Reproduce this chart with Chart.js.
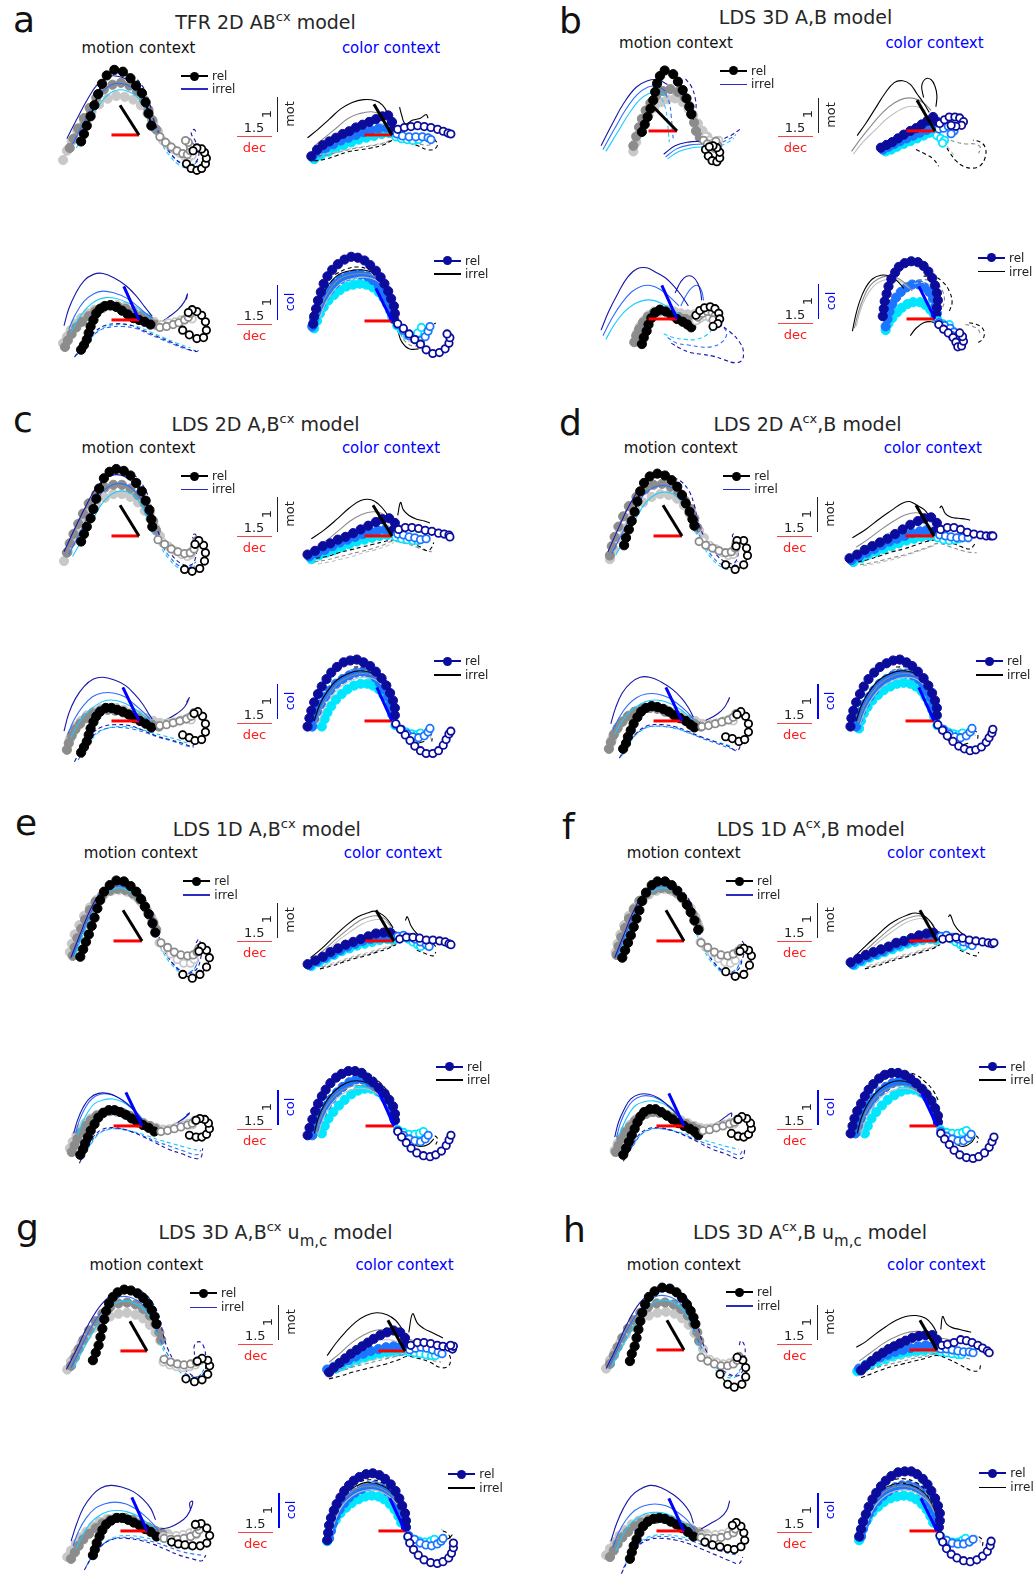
<!DOCTYPE html>
<html><head><meta charset="utf-8">
<script src="https://cdn.jsdelivr.net/npm/chart.js@4.4.0/dist/chart.umd.min.js"></script>
<style>
html,body{margin:0;padding:0;background:#fff;}
#fig{position:relative;width:1033px;height:1574px;overflow:hidden;font-family:"DejaVu Sans",sans-serif;color:#222;}
.t{position:absolute;white-space:nowrap;line-height:1;}
canvas{position:absolute;}
.ln{position:absolute;}
</style></head><body><div id="fig"></div>
<script>
// ===== DATA (state-space projections; x = dec axis, y = mot / col axis; rel offsets from trajectory origin) =====
const panels = ['a','b','c','d','e','f','g','h'];
const titles = ['TFR 2D AB<sup>cx</sup> model','LDS 3D A,B model','LDS 2D A,B<sup>cx</sup> model','LDS 2D A<sup>cx</sup>,B model',
  'LDS 1D A,B<sup>cx</sup> model','LDS 1D A<sup>cx</sup>,B model','LDS 3D A,B<sup>cx</sup> u<sub>m,c</sub> model','LDS 3D A<sup>cx</sup>,B u<sub>m,c</sub> model'];
const contexts = ['motion context','color context'];
const axisLabels = ['mot','col'];
const legendLabels = ['rel','irrel'];
const scaleLabels = ['1.5','1','dec'];

// motion context, dec-mot plane (top-left)
const relFilledTL = [
 [[-61,-7,-58,1,-55,10,-51,20,-47,32,-43,44,-39,55,-34,64,-26,70,-17,68,-9,61,-3,53,3,45,7,35,10,23,13,10],[-73,-14,-69,-4,-64,7,-58,18,-52,29,-45,40,-37,49,-28,54,-19,56,-10,53,-2,47,5,38,10,27,14,16,18,6],[-80,-27,-76,-17,-71,-7,-65,4,-58,15,-50,25,-42,33,-33,39,-24,42,-15,41,-6,38,2,32,9,23,15,13,20,4]],
 [[-37,-1,-34,7,-31,15,-28,24,-25,33,-23,42,-21,51,-18,59,-13,65,-4,61,1,53,6,44,10,35,13,26,15,18],[-46,-16,-43,-6,-40,4,-37,13,-33,22,-28,30,-22,38,-15,43,-7,45,1,42,8,36,13,27,16,18,18,9,20,0,24,-7],[-46,-22,-43,-12,-39,-2,-35,8,-30,17,-24,25,-17,31,-10,34,-2,35,6,31,12,24,17,16,22,8,27,0,32,-6]],
 [[-61,-6,-58,2,-55,10,-51,19,-48,29,-45,40,-42,51,-37,62,-31,69,-24,72,-16,70,-9,65,-3,57,3,48,7,38,11,28,13,18,14,10],[-76,-18,-73,-8,-69,2,-64,13,-59,24,-53,35,-45,45,-36,52,-27,55,-18,55,-9,51,-1,44,6,35,11,25,15,16,18,6],[-79,-27,-75,-17,-71,-7,-66,4,-60,15,-53,26,-45,35,-36,41,-27,45,-18,45,-9,42,-1,36,6,27,12,18,17,9,22,0]],
 [[-61,-10,-59,-2,-56,7,-53,16,-50,26,-47,37,-44,48,-40,57,-34,64,-26,67,-18,65,-11,60,-5,53,0,44,4,35,8,26,11,18,13,11],[-76,-21,-74,-11,-71,-1,-67,10,-62,21,-56,32,-48,42,-39,50,-30,55,-21,56,-12,53,-4,47,3,38,9,29,13,19,16,9],[-76,-25,-72,-14,-67,-3,-62,8,-56,19,-49,28,-41,36,-32,42,-23,45,-14,44,-5,40,2,33,8,24,13,15,18,6,23,-2]],
 [[-65,-17,-62,-9,-59,-1,-56,7,-53,16,-50,25,-47,35,-44,44,-40,53,-34,60,-27,65,-19,64,-12,59,-6,53,-1,45,3,37,7,29,11,19,14,9],[-73,-16,-71,-7,-68,3,-64,13,-60,23,-55,33,-49,42,-42,49,-34,54,-26,56,-18,55,-10,51,-3,45,3,37,8,28,12,20,15,12],[-76,-12,-74,-3,-71,7,-66,17,-61,27,-55,36,-48,44,-40,50,-32,54,-24,55,-16,53,-8,49,-1,42,5,34,10,25,13,16]],
 [[-65,-18,-62,-10,-59,-2,-56,6,-53,15,-50,24,-47,33,-44,43,-40,52,-34,60,-28,64,-20,64,-13,60,-7,54,-2,47,3,39,7,31,11,22,15,12],[-71,-15,-69,-6,-66,4,-62,14,-58,24,-53,34,-47,43,-40,50,-32,55,-24,57,-16,56,-8,52,-2,46,4,38,9,29,13,21,16,13],[-72,-12,-70,-3,-67,7,-63,17,-58,27,-52,36,-45,44,-37,50,-29,54,-21,56,-13,54,-6,50,1,43,7,35,12,26,15,17]],
 [[-57,-10,-54,-2,-51,6,-49,15,-47,24,-45,34,-43,43,-40,51,-36,58,-31,63,-24,66,-17,65,-10,62,-4,57,1,51,5,44,8,37,10,29],[-80,-16,-76,-7,-72,2,-67,12,-61,22,-54,32,-47,40,-39,47,-30,51,-21,52,-12,50,-4,45,3,38,9,29,13,20,15,12],[-84,-20,-80,-11,-75,-2,-69,8,-63,17,-56,25,-48,32,-39,37,-30,40,-21,41,-12,39,-4,35,3,28,9,20,14,11]],
 [[-57,-12,-55,-4,-52,4,-50,13,-48,22,-46,31,-44,40,-41,49,-37,57,-31,63,-23,67,-15,66,-8,62,-2,56,3,49,7,42,10,35,12,28],[-78,-15,-74,-6,-70,3,-65,13,-59,23,-53,32,-46,40,-38,46,-29,50,-20,51,-11,49,-3,44,4,37,10,28,14,19,16,10],[-82,-20,-78,-11,-73,-2,-67,8,-61,17,-54,25,-46,32,-37,37,-28,40,-19,41,-10,39,-2,34,5,27,11,18,16,9,20,1]]
];
const relOpenTL = [
 [[50,-31,55,-36,61,-38,66,-36,70,-31,71,-25,69,-19,66,-15,61,-14,57,-17],[22,-2,28,-8,34,-13,40,-17,46,-20,51,-21,54,-17,54,-12,52,-8,49,-6],[25,-6,31,-11,37,-16,43,-20,48,-23,52,-25,56,-22,57,-17,55,-13]],
 [[30,-20,33,-27,37,-32,42,-33,45,-29,45,-23,42,-18,38,-16,34,-17],[28,-10,32,-14,36,-17,40,-19,43,-16,41,-11],[30,-6,34,-10,38,-13,42,-14,44,-10]],
 [[48,-36,56,-38,64,-35,69,-27,70,-18,68,-10,63,-5,59,-9],[20,-4,27,-9,34,-14,41,-17,48,-19,54,-18,58,-14,60,-9,61,-5],[24,-6,31,-11,38,-16,45,-20,51,-22,55,-20,57,-15]],
 [[46,-31,56,-36,65,-31,69,-21,68,-13,65,-5,58,-5,57,-11],[18,-6,25,-10,32,-13,39,-16,46,-18,52,-17,56,-13,57,-8],[22,-5,29,-10,36,-14,43,-18,49,-21,54,-20,56,-15]],
 [[43,-36,53,-40,61,-36,68,-28,71,-18,68,-10,63,-6,60,-11],[20,-2,27,-7,34,-12,41,-15,48,-16,54,-15,58,-12,60,-8],[18,-2,24,-8,30,-14,37,-20,44,-24,51,-24,55,-20]],
 [[44,-33,54,-38,63,-36,69,-26,71,-16,68,-10,63,-8,59,-11],[18,-2,25,-7,32,-12,39,-15,46,-16,52,-14,57,-11,60,-8],[17,-1,23,-7,29,-13,36,-19,43,-23,49,-24,54,-21]],
 [[41,-30,50,-33,58,-31,64,-25,66,-16,64,-10,58,-8,53,-11],[18,-9,25,-12,32,-14,39,-15,46,-14,52,-12,56,-10],[17,-12,24,-15,31,-17,38,-18,45,-17,51,-15]],
 [[38,-26,46,-37,53,-40,61,-37,65,-29,65,-19,62,-11,56,-8],[18,-8,25,-12,32,-15,39,-17,46,-17,52,-15,56,-11,58,-7],[20,-6,27,-10,34,-13,41,-15,48,-14,54,-11]]
];
const irrelSolidTL = [
 [[-76,-4,-66,16,-55,37,-44,54,-32,63,-18,62,-4,53,6,38,12,20],[-70,-10,-60,10,-49,31,-38,47,-26,55,-13,54,-1,45,8,30,13,12],[-66,-14,-56,6,-46,26,-35,41,-24,48,-12,47,0,39,8,24,13,8]],
 [[-80,-16,-68,8,-56,30,-43,47,-31,54,-20,55,-10,50,null,-14,-25,-2,-16,12,-12,26,-11],[-78,-20,-66,2,-54,23,-42,39,-31,47,-21,48,-12,43,null,-12,-28,0,-19,14,-15,28,-14],[-75,-22,-63,-2,-51,18,-40,33,-30,40,-20,42,-11,38,null,-10,-30,2,-22,16,-18,30,-17]],
 [[-79,-17,-69,5,-57,30,-45,52,-32,64,-18,65,-5,56,5,40,11,22],[-74,-20,-64,0,-53,23,-42,43,-30,54,-17,56,-5,49,5,34,11,16],[-70,-22,-60,-4,-49,17,-38,36,-27,46,-15,48,-4,42,5,28,11,12]],
 [[-78,-17,-68,6,-57,30,-45,50,-32,62,-18,63,-5,55,5,40,11,22],[-74,-19,-64,1,-53,23,-42,42,-30,52,-17,54,-5,48,5,33,11,16],[-70,-21,-60,-3,-49,18,-38,36,-27,45,-15,47,-4,41,5,27,11,12]],
 [[-75,-18,-66,5,-56,30,-45,50,-33,60,-20,60,-7,52,4,38,11,20],[-73,-17,-64,6,-54,30,-43,49,-31,58,-19,58,-7,50,4,36,11,18],[-71,-16,-62,7,-52,30,-41,48,-30,56,-18,56,-7,48,4,34,11,16]],
 [[-73,-18,-64,5,-54,30,-43,50,-31,60,-18,60,-5,52,5,38,12,20],[-71,-17,-62,6,-52,30,-41,49,-29,58,-17,58,-5,50,5,36,12,18],[-69,-16,-60,7,-50,30,-39,48,-28,56,-16,56,-5,48,5,34,12,16]],
 [[-85,-20,-74,2,-62,28,-48,50,-34,62,-20,63,-6,56,5,42,12,24],[-80,-18,-70,3,-58,27,-45,46,-32,57,-19,58,-6,51,5,37,11,20],[-77,-18,-67,2,-55,24,-43,42,-31,52,-18,53,-6,47,5,34,11,18]],
 [[-82,-20,-71,3,-60,28,-47,50,-33,62,-19,63,-6,56,5,42,12,24],[-79,-18,-69,3,-57,27,-44,46,-31,57,-18,58,-5,51,5,37,11,20],[-76,-18,-66,2,-54,24,-42,42,-30,52,-17,53,-5,47,5,34,11,18]]
];
const irrelDashTL = [
 [[-22,67,-8,64,4,52,11,35,15,18,22,0,32,-18,44,-30,56,-32,63,-22,60,-8,55,2,58,6,61,1],[16,10,24,-6,33,-20,43,-30,54,-34,62,-28],[15,8,23,-8,32,-22,42,-32,53,-36,60,-30]],
 [[9,56,15,48,19,36,20,24,17,12,null,50,-8,58,-4,64,0,68,3],[-12,40,-8,30,-6,15,-5,2,-4,-8,null,48,-12,56,-8,62,-4],[-16,35,-12,24,-10,10,-9,-2,-8,-12,null,46,-16,54,-12,60,-8]],
 [[-20,70,-6,66,5,53,12,35,16,16,24,-4,34,-20,45,-30,55,-31,60,-22,60,-8,56,0,59,2,62,-3],[15,8,23,-8,32,-22,42,-32,52,-34,60,-28],[14,6,22,-10,31,-24,41,-34,51,-37,59,-32]],
 [[-16,64,-3,60,7,49,13,33,17,15,25,-4,35,-19,46,-28,55,-29,59,-20,58,-8,53,0,55,3],[15,8,23,-8,32,-22,42,-31,52,-33,59,-27],[14,6,22,-10,31,-24,41,-33,51,-36,58,-31]],
 [[-28,64,-14,62,-2,52,8,36,14,16,22,-6,32,-24,44,-34,56,-32,62,-18,62,-6,60,2,57,-2],[14,10,22,-8,31,-22,42,-32,53,-32,60,-20],[13,8,21,-10,30,-24,41,-34,52,-34,59,-22]],
 [[-26,64,-12,62,0,52,9,36,14,16,22,-6,32,-24,44,-34,56,-32,62,-18,64,-6,60,2],[14,10,22,-8,31,-22,42,-32,53,-32,61,-20],[13,8,21,-10,30,-24,41,-34,52,-34,60,-22]],
 [[-20,66,-6,64,5,53,13,36,17,18,22,2,30,-12,42,-22,52,-28,60,-24,62,-10,60,4,55,10,50,6,50,-4],[14,12,22,-4,31,-16,42,-25,53,-28,60,-20],[13,10,21,-6,30,-18,41,-27,52,-30,59,-23]],
 [[-18,64,-4,62,6,51,13,34,17,16,24,-2,34,-16,46,-25,56,-28,62,-22,64,-8,64,4,60,10,58,4],[14,12,22,-4,31,-16,42,-25,53,-28,60,-20],[13,10,21,-6,30,-18,41,-27,52,-30,59,-23]]
];
const axisTL = [[-20,32],[-25,26],[-20,33],[-20,33],[-20,33],[-19,33],[-18,32],[-18,32]];

// color context, dec-mot plane (top-right)
const relFilledTR = [
 [[-85,-23,-79,-16,-73,-11,-66,-7,-59,-3,-52,1,-45,4,-38,8,-31,11,-24,14,-17,17,-10,20,-4,21,0,14,1,5],[-84,-23,-77,-18,-70,-14,-62,-10,-54,-6,-46,-3,-38,0,-30,3,-22,5,-14,7,-6,8,0,6],[-82,-26,-75,-22,-67,-18,-59,-14,-51,-11,-43,-8,-35,-5,-27,-3,-19,-1,-11,1,-3,2]],
 [[-57,-18,-51,-15,-45,-12,-39,-8,-33,-4,-26,0,-20,3,-14,7,-8,11,-2,15,2,10],[-55,-20,-49,-17,-43,-14,-37,-11,-30,-8,-23,-5,-16,-2,-9,1,-3,4,2,3],[-52,-22,-46,-20,-40,-17,-33,-14,-26,-11,-19,-8,-12,-5,-6,-2,0,-2]],
 [[-89,-20,-81,-16,-73,-11,-65,-8,-57,-4,-49,-1,-41,3,-33,7,-25,11,-17,15,-10,18,-3,19,3,14,1,6],[-87,-22,-79,-19,-71,-15,-63,-11,-55,-7,-47,-4,-39,-1,-31,2,-23,4,-15,6,-7,7,-1,5],[-85,-25,-77,-21,-69,-18,-61,-15,-53,-12,-45,-9,-37,-6,-29,-4,-21,-2,-13,0,-5,1]],
 [[-89,-24,-81,-20,-73,-15,-65,-11,-57,-7,-49,-3,-41,2,-33,7,-25,12,-17,16,-10,19,-3,20,3,14,1,5],[-87,-26,-79,-22,-71,-18,-63,-14,-55,-10,-47,-6,-39,-3,-31,0,-23,3,-15,5,-8,6,-2,4],[-85,-28,-77,-24,-69,-20,-61,-17,-53,-14,-45,-11,-37,-8,-29,-5,-21,-3,-13,-1,-5,0]],
 [[-91,-25,-83,-21,-75,-17,-67,-12,-59,-8,-51,-4,-43,-1,-35,2,-27,5,-19,8,-11,9,-4,9,1,5],[-89,-26,-81,-22,-73,-18,-65,-14,-57,-10,-49,-6,-41,-3,-33,0,-25,2,-17,4,-9,5,-2,4],[-87,-27,-79,-23,-71,-19,-63,-15,-55,-11,-47,-8,-39,-5,-31,-3,-23,-1,-15,1,-7,2,-1,1]],
 [[-91,-23,-83,-19,-75,-15,-67,-12,-59,-9,-51,-6,-43,-2,-35,0,-27,3,-19,6,-11,8,-4,9,1,5],[-89,-25,-81,-21,-73,-17,-65,-14,-57,-11,-49,-7,-41,-4,-33,-1,-25,1,-17,3,-9,5,-2,4],[-87,-26,-79,-22,-71,-18,-63,-15,-55,-12,-47,-9,-39,-6,-31,-3,-23,-1,-15,1,-7,2,-1,1]],
 [[-80,-23,-75,-18,-69,-13,-63,-8,-57,-3,-51,1,-45,5,-39,9,-33,13,-26,17,-19,20,-12,22,-5,20,0,14,1,6],[-82,-20,-75,-17,-68,-14,-60,-10,-52,-6,-44,-3,-36,0,-28,2,-20,4,-12,5,-4,5,0,3],[-80,-22,-73,-19,-66,-16,-58,-13,-50,-10,-42,-7,-34,-5,-26,-3,-18,-2,-10,-1,-3,0]],
 [[-80,-22,-75,-17,-69,-12,-63,-7,-57,-3,-51,1,-45,4,-39,7,-33,10,-26,13,-19,15,-12,16,-5,16,0,11,1,5],[-82,-20,-75,-16,-68,-12,-60,-8,-52,-5,-44,-2,-36,0,-28,2,-20,4,-12,5,-4,5,0,3],[-84,-23,-77,-19,-70,-16,-62,-13,-54,-10,-46,-7,-38,-5,-30,-3,-22,-2,-14,-1,-6,0,-1,0]]
];
const relOpenTR = [
 [[6,6,13,8,20,9,27,10,34,9,41,8,48,6,54,4,59,2,62,1],[5,1,11,-1,18,-2,25,-2,32,-2,38,-3,41,-5],[4,-2,10,-4,16,-5,22,-6,28,-5]],
 [[5,8,10,12,15,15,21,15,26,14,30,10,28,6,22,5,17,6],[4,2,9,3,14,5,18,4,20,0,17,-3],[2,-5,6,-8,10,-10,8,-13]],
 [[7,7,14,9,21,9,28,8,35,6,42,5,49,3,55,2,60,1,61,-1],[6,2,12,1,18,-1,24,-2,30,-4,36,-3],[4,-1,10,-3,16,-4,22,-5,27,-5]],
 [[7,7,14,9,21,9,28,7,35,4,42,2,49,1,55,0,60,0,62,0],[6,1,12,0,18,-1,24,-2,30,-2,36,-2],[4,-2,10,-4,16,-5,22,-4,26,-3]],
 [[6,2,13,4,20,4,27,3,34,1,41,1,48,0,54,-1,58,-3,60,-4],[4,5,10,6,16,4,22,2,28,-1,34,-4,37,-6],[3,3,9,4,15,2,20,-1,25,-4,28,-6]],
 [[6,2,13,3,20,4,27,3,34,1,41,0,48,-1,54,-2,58,-3,60,-2],[4,5,10,6,16,4,22,2,28,-1,34,-3,37,-5],[3,3,9,4,15,2,20,-1,25,-4,28,-6]],
 [[6,6,13,9,20,9,27,8,34,6,40,5,46,4,50,2,51,5,48,6],[5,1,11,3,17,4,23,3,29,1,35,-1,39,-3],[4,-1,10,-2,16,-3,22,-4,28,-5,32,-5]],
 [[5,5,11,6,18,8,25,11,31,10,37,8,43,5,48,2,53,-1,55,-3],[4,1,10,1,16,0,22,-1,28,-2,34,-2,38,-3],[4,-2,10,-3,16,-4,22,-5,26,-5]]
];
const irrelSolidTR = [
 [[-89,-3,-78,6,-66,17,-54,28,-42,35,-30,38,-18,37,-10,32,-4,22,0,12,null,8,30,10,22,14,12,22,16,30,18,36,22,38,18],[-82,-12,-70,-2,-58,8,-46,18,-34,23,-22,25,-12,22,-4,14],[-80,-18,-68,-9,-56,-2,-44,5,-32,10,-20,13,-10,12,-3,8]],
 [[-82,-5,-73,8,-63,24,-53,40,-43,52,-34,54,-26,50,-19,40,-12,30,-6,20,null,-12,36,-14,48,-10,56,-4,55,0,48,2,38,1,26],[-88,-22,-78,-8,-67,6,-55,20,-43,30,-32,35,-22,35,-12,30,-4,22],[-86,-25,-76,-12,-64,0,-52,12,-40,21,-29,26,-19,26,-10,22]],
 [[-85,-3,-72,6,-58,18,-45,30,-33,38,-22,39,-14,34,-7,26,-2,18,null,6,22,9,36,12,28,18,22,26,18,34,16,40,14],[-80,-12,-68,-4,-56,6,-44,16,-32,23,-20,26,-10,24,-2,16],[-78,-16,-66,-8,-54,-1,-42,6,-30,11,-18,14,-8,13,-1,9]],
 [[-86,-2,-72,7,-58,18,-44,28,-34,35,-26,37,-18,33,-10,28,-4,20,null,6,30,8,32,12,24,18,20,26,19,34,18,38,17],[-82,-12,-70,-4,-57,6,-44,15,-32,22,-20,25,-10,23,-2,16],[-80,-16,-67,-8,-54,-1,-42,6,-30,11,-18,14,-8,13,-1,9]],
 [[-88,-18,-76,-8,-63,5,-50,17,-38,26,-28,30,-20,32,-12,28,-6,22,-1,14,null,12,22,14,26,18,16,24,8,32,2,40,-2,44,-6],[-86,-20,-74,-10,-61,2,-48,13,-36,22,-26,26,-18,27,-10,24,-3,16],[-84,-22,-72,-12,-59,0,-46,10,-34,18,-24,22,-16,23,-8,20,-2,13]],
 [[-88,-18,-76,-6,-62,7,-50,18,-40,24,-31,28,-23,30,-15,28,-8,22,-2,13,null,12,26,14,28,18,18,24,10,32,4,38,0,44,-4],[-86,-20,-74,-9,-61,3,-48,14,-36,22,-26,26,-18,27,-10,24,-3,16],[-84,-22,-72,-11,-59,1,-46,11,-34,19,-24,23,-16,24,-8,21,-2,14]],
 [[-82,-5,-73,8,-63,20,-52,31,-41,38,-30,41,-19,39,-10,33,-4,25,0,17,null,4,20,8,40,13,30,20,24,28,20,36,16,40,14],[-80,-12,-68,-2,-56,9,-44,17,-32,22,-20,23,-10,21,-2,15,6,12,14,10,24,8],[-78,-16,-66,-7,-54,1,-42,7,-30,11,-18,12,-8,10,-1,6]],
 [[-85,3,-75,9,-65,17,-54,25,-43,32,-33,36,-22,37,-12,34,-5,27,0,18,null,4,22,6,36,10,28,16,24,24,22,32,20,36,19],[-82,-12,-70,-3,-58,6,-46,13,-34,18,-22,20,-12,19,-4,14,8,12,18,10,28,8],[-80,-16,-68,-8,-56,0,-44,6,-32,10,-20,12,-10,11,-2,7]]
];
const irrelDashTR = [
 [[-82,-28,-70,-26,-58,-22,-46,-18,-34,-16,-22,-14,-10,-11,0,-6,null,18,-8,28,-12,38,-16,45,-15,48,-10,45,-5],[-78,-24,-66,-21,-54,-18,-42,-15,-30,-13,-18,-11,-6,-8,2,-4,14,-6,26,-9,38,-11,44,-8],[-76,-21,-64,-19,-52,-17,-40,-14,-28,-12,-16,-10,-4,-7,4,-3]],
 [[4,-6,10,-14,16,-24,22,-32,30,-38,40,-40,48,-37,53,-28,53,-18,48,-12,40,-10,null,-20,-20,-10,-25,-2,-30,4,-38],[3,-4,12,-8,22,-12,32,-14,42,-14,48,-18,46,-24],[2,-6,8,-12,14,-18,20,-26]],
 [[-80,-24,-68,-22,-56,-18,-44,-15,-32,-12,-20,-9,-8,-6,2,-4,null,20,-7,30,-12,38,-16,42,-12,44,-7],[-82,-28,-70,-26,-58,-23,-46,-20,-34,-17,-22,-14,-10,-10,0,-6,14,-8,26,-12,36,-16,42,-17],[-78,-30,-66,-28,-54,-25,-42,-22,-30,-18,-18,-15,-6,-11,2,-7]],
 [[-80,-28,-68,-25,-56,-21,-44,-17,-32,-14,-20,-10,-8,-6,2,-4,null,20,-8,30,-12,38,-14,42,-10,44,-6],[-78,-31,-66,-29,-54,-26,-42,-23,-30,-20,-18,-16,-6,-12,4,-8,18,-12,30,-16,40,-18,45,-18],[-75,-32,-63,-30,-51,-27,-39,-24,-27,-20,-15,-16,-4,-12,4,-8]],
 [[-78,-30,-66,-27,-54,-23,-42,-19,-30,-16,-18,-12,-6,-8,2,-4,null,24,-10,34,-14,42,-16,44,-12],[-76,-28,-64,-25,-52,-21,-40,-17,-28,-14,-16,-10,-4,-6,3,-3],[-74,-26,-62,-23,-50,-19,-38,-15,-26,-12,-14,-8,-2,-5,4,-2]],
 [[-76,-30,-64,-27,-52,-23,-40,-19,-28,-16,-16,-12,-4,-8,3,-4,null,24,-10,34,-14,42,-16,44,-12],[-74,-28,-62,-25,-50,-21,-38,-17,-26,-14,-14,-10,-2,-6,4,-3],[-72,-26,-60,-23,-48,-19,-36,-15,-24,-12,-12,-8,0,-5,5,-2]],
 [[-80,-30,-68,-27,-56,-23,-44,-20,-32,-17,-20,-14,-8,-10,2,-6,14,-8,26,-12,38,-18,46,-16,48,-8,46,-3],[-78,-24,-66,-21,-54,-17,-42,-14,-30,-11,-18,-8,-6,-5,4,-3,16,-6,28,-10,38,-12],[-76,-20,-64,-17,-52,-14,-40,-11,-28,-8,-16,-6,-4,-3,4,-1]],
 [[-80,-30,-70,-26,-60,-22,-48,-18,-36,-15,-24,-12,-12,-9,0,-6,12,-10,24,-16,36,-22,44,-22,46,-16],[-84,-26,-72,-22,-60,-18,-48,-15,-36,-12,-24,-9,-12,-7,0,-4,12,-5,24,-7,36,-10],[-82,-20,-70,-17,-58,-14,-46,-11,-34,-8,-22,-6,-10,-4,0,-2]]
];
const axisTR = [[-19,33],[-19,33],[-20,33],[-19,33],[-19,33],[-18,33],[-18,33],[-18,32]];

// motion context, dec-col plane (bottom-left)
const relFilledBL = [
 [[-61,-32,-58,-27,-55,-21,-53,-14,-51,-7,-48,0,-45,7,-41,12,-36,15,-30,16,-24,14,-18,10,-12,6,-6,2,0,0,6,-2,12,-5],[-78,-29,-75,-22,-71,-15,-66,-8,-60,-2,-53,4,-46,9,-38,13,-30,15,-22,14,-14,12,-6,8,2,4,10,0,17,-5],[-80,-25,-76,-18,-72,-11,-67,-4,-61,2,-54,7,-47,11,-39,14,-31,16,-23,16,-15,14,-7,10,1,6,9,2,16,-2,22,-6]],
 [[-37,-27,-35,-20,-32,-13,-30,-6,-27,1,-23,7,-18,10,-12,8,-6,4,0,0,6,-3,11,-6,15,-9],[-45,-25,-43,-18,-40,-11,-36,-4,-31,2,-25,6,-19,8,-12,8,-5,5,2,2,9,0,16,-1,22,0],[-42,-15,-39,-8,-35,-2,-30,4,-24,8,-17,10,-10,10,-3,8,4,6,11,5,18,5,24,6]],
 [[-61,-34,-58,-28,-55,-22,-53,-15,-51,-8,-48,-1,-45,5,-41,10,-35,14,-29,14,-23,12,-17,10,-11,7,-5,3,1,0,7,-3,13,-7],[-76,-31,-74,-24,-71,-16,-67,-9,-62,-3,-56,3,-49,8,-41,11,-33,12,-25,11,-17,9,-9,6,-1,3,7,-1,14,-4,21,-6],[-73,-20,-70,-13,-66,-6,-61,0,-55,6,-48,10,-40,13,-32,14,-24,14,-16,12,-8,9,0,6,8,3,15,0,22,-2]],
 [[-62,-30,-59,-24,-57,-17,-54,-10,-51,-3,-47,4,-43,10,-38,14,-32,16,-26,15,-20,13,-14,10,-8,6,-2,3,4,0,9,-4,13,-7],[-77,-30,-75,-23,-72,-15,-68,-8,-63,-1,-57,5,-50,10,-42,13,-34,14,-26,13,-18,10,-10,7,-2,3,6,0,13,-3,20,-6],[-74,-20,-71,-13,-67,-6,-62,0,-56,6,-49,10,-41,13,-33,14,-25,14,-17,12,-9,9,-1,6,7,2,14,0,21,-3]],
 [[-65,-31,-62,-25,-60,-19,-57,-12,-54,-5,-50,2,-46,9,-41,14,-35,17,-29,17,-23,15,-17,12,-11,8,-5,4,1,1,7,-2,13,-6],[-74,-28,-71,-21,-68,-14,-64,-7,-59,0,-54,6,-48,11,-41,14,-34,16,-27,16,-20,14,-13,11,-6,7,1,3,8,0,14,-3],[-76,-24,-73,-17,-69,-10,-65,-3,-60,3,-54,8,-47,12,-40,15,-33,16,-26,15,-19,13,-12,10,-5,6,2,3,9,0,15,-2,22,-4]],
 [[-64,-31,-61,-24,-58,-17,-55,-10,-52,-3,-49,4,-46,10,-42,15,-36,18,-30,18,-24,15,-18,11,-12,7,-6,3,0,0,6,-3,11,-6,15,-10],[-72,-28,-69,-21,-66,-14,-62,-7,-57,-1,-52,5,-46,10,-40,13,-33,15,-26,14,-19,12,-12,9,-5,5,2,2,9,-1,15,-4],[-73,-26,-70,-19,-66,-12,-62,-5,-57,1,-51,7,-45,11,-38,14,-31,15,-24,14,-17,12,-10,9,-3,6,4,3,11,0,17,-2,24,-3]],
 [[-57,-26,-55,-20,-53,-13,-50,-6,-47,1,-43,7,-38,11,-32,14,-26,14,-20,12,-14,9,-8,6,-2,2,4,-1,10,-6],[-80,-30,-76,-23,-72,-16,-67,-9,-61,-3,-54,3,-47,8,-39,12,-31,14,-23,14,-15,12,-7,8,1,4,9,0,16,-3],[-84,-28,-80,-21,-75,-14,-70,-7,-64,-1,-57,5,-50,10,-42,13,-34,14,-26,14,-18,12,-10,9,-2,5,6,2,14,-1,22,-3]],
 [[-57,-30,-55,-23,-53,-16,-50,-9,-47,-2,-43,5,-38,10,-32,13,-26,14,-20,13,-14,10,-8,7,-2,3,4,-1,10,-6],[-78,-28,-74,-21,-70,-14,-65,-7,-59,-1,-52,5,-45,9,-37,12,-29,13,-21,13,-13,11,-5,7,3,3,10,0,17,-3],[-82,-26,-78,-19,-73,-12,-68,-5,-62,1,-55,7,-48,11,-40,14,-32,15,-24,14,-16,12,-8,9,0,5,8,2,16,-1,24,-3]]
];
const relOpenBL = [
 [[46,-11,53,-16,61,-20,68,-19,71,-11,70,-2,66,5,61,9,56,11,52,8],[22,-8,29,-7,36,-5,42,-3,48,0,52,3,54,7],[24,-5,31,-3,38,-2,44,0,50,2,54,5,56,1]],
 [[20,4,24,9,29,12,35,13,40,11,44,6,45,0,43,-5,38,-8],[22,2,27,6,32,8,37,7,40,3,38,-1],[20,-2,25,1,30,3,34,2]],
 [[46,-15,53,-18,59,-21,66,-20,70,-12,70,-3,67,5,62,10,58,8],[22,-5,29,-4,36,-2,43,0,50,2,55,5,58,9],[24,-3,31,-2,38,-1,45,1,51,3,55,1]],
 [[46,-17,53,-19,60,-22,66,-20,70,-12,70,-3,67,5,62,10,58,7],[21,-6,28,-5,35,-3,42,-1,49,1,54,4,57,8],[23,-4,30,-3,37,-2,44,0,50,2,54,0]],
 [[50,-10,57,-12,63,-12,68,-9,71,-3,70,3,66,7,61,8,57,6],[20,-6,27,-5,34,-3,41,-1,48,1,53,3,56,6],[22,-4,29,-3,36,-1,43,1,49,3,53,1]],
 [[50,-8,57,-11,63,-12,68,-9,71,-3,70,3,66,8,61,10,57,7],[20,-5,27,-4,34,-2,41,0,48,2,53,4,56,7],[22,-3,29,-2,36,0,43,2,49,4,53,2]],
 [[26,-12,33,-14,40,-15,48,-16,56,-16,63,-13,66,-5,63,3,57,8,51,7],[18,-8,25,-9,32,-9,39,-8,46,-6,52,-3,55,1,53,5],[17,-6,24,-6,31,-5,38,-4,45,-2,50,0,52,-4]],
 [[22,-12,30,-15,38,-17,46,-19,53,-20,60,-17,64,-10,63,-2,60,5,55,9,51,6],[18,-7,25,-8,32,-8,39,-7,46,-5,52,-2,54,2],[19,-5,26,-5,33,-4,40,-3,47,-1,52,1]]
];
const irrelSolidBL = [
 [[-79,-6,-74,12,-67,28,-58,42,-48,49,-38,50,-26,45,-14,37,-3,26,6,14,14,4,null,21,-4,31,3,41,11,48,20,51,28,50,22],[-74,-10,-67,6,-58,20,-48,28,-38,31,-26,29,-14,24,-3,16,6,8,14,2],[-72,-14,-64,1,-55,13,-45,21,-35,24,-24,23,-13,19,-2,13,7,6,14,1]],
 [[-80,-12,-72,8,-62,28,-52,45,-42,54,-32,55,-22,50,-12,44,-4,36,4,26,12,14,null,-2,28,4,40,10,46,17,45,22,38,25,28,26,20],[-78,-18,-69,0,-59,16,-48,29,-38,35,-28,36,-18,32,-8,24,2,14,null,4,14,10,26,16,34,22,36,26,30,28,20],[-75,-22,-66,-6,-56,7,-45,16,-35,20,-25,20,-15,16,-5,10,4,4]],
 [[-79,-11,-74,8,-67,24,-58,37,-48,45,-38,47,-26,44,-14,38,-4,28,4,18,10,8,14,2,null,20,-2,30,2,40,8,48,15,53,25,50,20],[-75,-14,-68,2,-59,16,-49,26,-39,30,-27,30,-15,26,-5,18,4,10,12,2],[-72,-18,-64,-3,-55,9,-45,17,-35,22,-24,22,-13,18,-3,12,6,5,13,0]],
 [[-75,-3,-70,14,-63,30,-54,41,-44,47,-34,47,-22,42,-10,34,0,24,7,14,12,4,null,18,-2,28,2,38,8,45,15,50,25,48,20],[-73,-10,-66,4,-58,16,-48,25,-38,29,-26,29,-14,25,-4,18,5,10,12,2],[-71,-14,-63,0,-54,11,-44,18,-34,22,-22,22,-11,18,-1,12,7,5,13,0]],
 [[-72,-8,-68,6,-62,20,-55,30,-46,35,-36,35,-26,31,-16,24,-7,15,1,5,8,-3,null,18,-6,28,-2,38,4,46,10,50,14,47,12],[-70,-8,-66,6,-60,19,-53,29,-44,34,-34,34,-24,30,-14,23,-5,14,3,4,9,-3,null,18,-4,30,0,42,6,50,13],[-68,-10,-63,3,-57,15,-50,24,-41,28,-31,29,-21,26,-11,19,-3,11,4,3,10,-3]],
 [[-73,-12,-69,4,-63,18,-56,29,-47,34,-37,34,-27,30,-17,22,-8,13,0,4,6,-3,null,16,-6,26,-2,36,4,44,10,50,14,50,10],[-71,-12,-67,3,-61,17,-54,27,-45,32,-35,32,-25,28,-15,21,-6,12,2,3,8,-3],[-69,-12,-64,1,-58,13,-51,22,-42,26,-32,27,-22,24,-12,17,-4,10,3,2,9,-3]],
 [[-80,-11,-74,8,-67,25,-58,38,-49,46,-38,49,-26,47,-14,42,-4,34,4,24,9,12,null,14,2,24,4,34,9,42,16,47,26,48,32,45,30,46,22],[-78,-16,-72,0,-64,14,-55,24,-45,29,-34,31,-22,29,-11,23,-2,16,6,8,12,0],[-75,-20,-68,-5,-60,8,-51,16,-41,21,-30,22,-19,20,-8,15,1,8,9,2]],
 [[-77,-11,-71,8,-64,24,-56,37,-46,45,-35,49,-23,46,-11,39,-1,30,6,20,10,8,null,18,2,28,8,38,14,45,22,48,32,46,24],[-75,-18,-69,-2,-61,12,-52,22,-42,27,-31,29,-19,27,-8,21,1,14,8,6,12,0],[-72,-22,-66,-7,-58,6,-49,14,-39,19,-28,20,-17,18,-7,13,2,7,9,2]]
];
const irrelDashBL = [
 [[-68,-40,-60,-28,-48,-14,-36,-6,-22,-4,-8,-6,6,-12,20,-18,34,-24,48,-30,60,-34,64,-32],[-66,-38,-56,-26,-44,-13,-32,-8,-18,-7,-4,-9,10,-15,24,-21,38,-27,52,-32,60,-33],[-64,-36,-54,-24,-42,-11,-30,-6,-16,-5,-2,-7,12,-13,26,-19,40,-25,54,-30]],
 [[-6,-26,4,-32,14,-36,26,-38,38,-40,50,-44,60,-47,68,-45,70,-35,66,-25,56,-14,44,-6,32,-2],[-10,-20,0,-26,12,-28,24,-30,36,-30,46,-26,52,-18,50,-10,42,-4],[-14,-16,-4,-20,8,-22,20,-22,30,-18,36,-12,34,-6]],
 [[-68,-44,-60,-28,-50,-14,-38,-6,-24,-4,-10,-5,4,-10,18,-16,32,-20,46,-24,56,-27,60,-22],[-64,-42,-56,-26,-46,-14,-34,-8,-20,-7,-6,-9,8,-13,22,-18,36,-22,50,-27,58,-28],[-60,-40,-52,-24,-42,-12,-30,-7,-16,-6,-2,-8,12,-12,26,-16,40,-20,52,-24]],
 [[-66,-40,-58,-26,-48,-13,-36,-5,-22,-4,-8,-6,6,-11,20,-17,34,-22,48,-27,58,-32,62,-26],[-64,-38,-56,-24,-46,-12,-34,-6,-20,-6,-6,-8,8,-13,22,-19,36,-24,50,-29,58,-31],[-62,-36,-54,-22,-44,-11,-32,-6,-18,-6,-4,-9,10,-14,24,-19,38,-23,52,-27]],
 [[-66,-40,-58,-24,-50,-10,-40,-3,-28,-2,-14,-5,0,-11,14,-18,28,-25,42,-30,56,-35,62,-34,64,-24],[-64,-36,-56,-22,-48,-10,-38,-4,-26,-3,-12,-6,2,-11,16,-17,30,-22,44,-27,58,-31,62,-26],[-62,-32,-54,-20,-46,-9,-36,-4,-24,-3,-10,-6,4,-10,18,-15,32,-19,46,-23,58,-26]],
 [[-64,-38,-56,-24,-48,-10,-38,-3,-26,-2,-12,-5,2,-11,16,-18,30,-25,44,-30,56,-35,62,-34,64,-26],[-62,-34,-54,-22,-46,-10,-36,-4,-24,-3,-10,-6,4,-11,18,-17,32,-22,46,-27,58,-31,62,-26],[-60,-30,-52,-18,-44,-8,-34,-3,-22,-3,-8,-6,6,-10,20,-15,34,-19,48,-23,58,-25]],
 [[-66,-42,-58,-28,-48,-16,-36,-9,-22,-8,-8,-10,6,-14,20,-20,34,-26,48,-30,58,-32,62,-26],[-64,-38,-56,-25,-46,-14,-34,-8,-20,-7,-6,-9,8,-12,22,-17,36,-22,50,-25,58,-26],[-62,-34,-54,-22,-44,-12,-32,-6,-18,-5,-4,-7,10,-10,24,-14,38,-18,50,-20]],
 [[-66,-46,-58,-30,-48,-16,-36,-9,-22,-8,-8,-10,6,-14,20,-20,34,-26,48,-32,58,-35,62,-28],[-64,-40,-56,-26,-46,-13,-34,-7,-20,-6,-6,-8,8,-11,22,-16,36,-21,50,-25,58,-26],[-62,-36,-54,-22,-44,-10,-32,-5,-18,-4,-4,-6,10,-9,24,-13,38,-17,50,-20]]
];
const axisBL = [[-16,36],[-16,36],[-17,36],[-17,36],[-17,36],[-16,35],[-16,36],[-16,35]];

// color context, dec-col plane (bottom-right)
const relFilledBR = [
 [[-83,-3,-82,5,-80,13,-78,22,-75,31,-72,40,-68,48,-63,55,-57,61,-50,66,-43,69,-36,68,-29,65,-23,60,-17,54,-12,47,-8,40,-4,32,-1,24,2,16,3,8,2,2],[-84,-6,-82,2,-79,10,-75,18,-71,26,-66,33,-60,40,-54,45,-47,48,-40,50,-33,50,-26,48,-20,44,-14,38,-9,31,-5,24,-2,16,0,8],[-82,-8,-79,0,-76,8,-72,15,-67,22,-61,28,-55,33,-48,37,-41,39,-34,40,-27,39,-20,36,-14,31,-9,25,-5,18,-2,11,0,5]],
 [[-55,3,-54,11,-53,19,-51,27,-49,35,-46,43,-42,50,-38,56,-32,60,-25,62,-18,61,-12,57,-7,51,-3,44,0,36,2,28,3,20,2,12,1,5],[-52,-8,-50,0,-48,8,-45,16,-41,23,-36,29,-30,34,-24,37,-17,37,-11,34,-6,29,-2,22,1,14,2,6],[-52,-12,-49,-5,-45,1,-40,7,-35,12,-29,16,-23,18,-16,18,-10,15,-5,10,-1,5,2,0]],
 [[-89,-6,-87,3,-85,11,-82,20,-78,29,-74,37,-69,45,-64,52,-58,58,-51,63,-44,65,-37,66,-30,63,-23,59,-17,53,-11,46,-6,38,-2,30,1,22,3,14,3,6],[-84,-6,-82,2,-79,10,-75,18,-70,26,-65,33,-59,40,-52,45,-45,49,-38,52,-31,53,-24,51,-18,47,-13,41,-8,34,-4,26,-1,18,0,10],[-74,-6,-71,2,-68,9,-64,16,-59,23,-53,29,-47,34,-40,38,-33,40,-26,40,-20,38,-14,34,-9,28,-5,21,-2,14,0,7]],
 [[-88,-6,-87,3,-85,11,-82,20,-78,29,-74,37,-69,45,-63,52,-57,58,-50,62,-43,65,-36,66,-29,63,-23,59,-17,53,-11,46,-6,38,-2,30,1,22,3,14,3,6],[-82,-6,-80,2,-77,10,-73,18,-68,26,-63,33,-57,40,-50,45,-43,49,-36,51,-29,51,-22,49,-16,45,-11,39,-7,32,-3,25,-1,17,0,9],[-79,-8,-77,0,-74,8,-70,15,-65,22,-59,28,-53,33,-46,37,-39,40,-32,41,-25,40,-19,37,-13,32,-9,26,-5,19,-2,12,0,5]],
 [[-91,-10,-89,-2,-86,7,-83,16,-80,24,-76,32,-72,39,-67,46,-61,52,-55,56,-48,59,-41,59,-34,57,-28,52,-22,47,-16,41,-10,35,-5,28,-1,21,1,13,1,6],[-86,-10,-83,-2,-80,6,-76,14,-71,22,-66,29,-60,36,-54,42,-47,47,-40,50,-33,50,-26,47,-20,42,-14,36,-9,29,-5,22,-2,15,0,8],[-76,-8,-73,0,-69,8,-64,15,-58,22,-52,28,-45,34,-38,38,-31,40,-24,40,-17,37,-11,32,-6,26,-3,19,-1,12]],
 [[-91,-8,-89,0,-87,8,-84,16,-80,24,-76,32,-72,39,-67,45,-61,51,-55,55,-48,57,-41,57,-34,55,-28,51,-22,46,-16,40,-11,34,-6,27,-2,19,1,11,1,4],[-86,-8,-83,0,-80,8,-76,16,-71,23,-66,30,-60,37,-54,42,-47,46,-40,48,-33,48,-26,46,-20,41,-14,35,-9,29,-5,22,-2,15,0,8],[-76,-8,-73,0,-69,8,-64,15,-58,22,-52,28,-45,33,-38,37,-31,39,-24,39,-17,36,-11,31,-6,25,-3,18,-1,11]],
 [[-82,-10,-81,-2,-80,6,-78,14,-75,22,-72,29,-68,36,-64,43,-59,49,-54,54,-48,58,-41,61,-34,62,-27,60,-21,56,-15,50,-10,43,-6,35,-3,27,0,19,1,11,1,4],[-80,-8,-78,0,-76,8,-73,16,-69,23,-64,30,-59,36,-53,41,-46,45,-39,48,-32,49,-25,47,-19,43,-13,37,-8,30,-4,23,-1,15,0,8],[-82,-11,-80,-3,-77,5,-73,12,-68,19,-62,25,-56,30,-49,34,-42,37,-35,38,-28,37,-22,34,-16,29,-11,23,-7,16,-4,9]],
 [[-82,-6,-80,2,-78,10,-75,18,-72,26,-68,34,-64,41,-59,48,-54,54,-48,59,-41,63,-34,64,-27,64,-21,61,-15,56,-10,50,-6,43,-2,35,1,27,3,19,3,11,2,4],[-80,-6,-78,2,-75,10,-72,18,-68,25,-63,32,-57,38,-51,43,-44,47,-37,49,-30,49,-23,47,-17,43,-12,37,-7,30,-4,23,-1,15,0,8],[-82,-10,-80,-2,-77,6,-73,13,-68,20,-62,26,-56,31,-49,35,-42,37,-35,38,-28,37,-22,34,-16,29,-11,23,-7,16,-4,9]]
];
const relOpenBR = [
 [[6,-3,12,-8,18,-14,24,-20,30,-25,36,-31,43,-35,50,-34,56,-30,60,-24,61,-18,58,-14],[6,-4,12,-10,18,-16,24,-20,30,-21,35,-17,38,-11,40,-6],[5,-5,10,-10,16,-15,22,-17,27,-13,31,-7]],
 [[4,-6,9,-11,14,-15,19,-20,22,-25,24,-30,28,-29,30,-24,29,-19,26,-15],[4,-4,10,-7,16,-10,20,-14,18,-18],[3,-2,8,-5,12,-8,15,-6]],
 [[4,-3,9,-9,14,-15,19,-21,24,-27,30,-32,36,-35,43,-35,49,-32,54,-26,57,-20,60,-14,62,-11],[4,-4,10,-9,16,-14,22,-17,28,-18,34,-16,38,-12,40,-8],[3,-5,9,-9,15,-12,21,-14,26,-15,30,-13]],
 [[4,-4,9,-10,14,-16,20,-22,26,-27,32,-30,38,-32,44,-31,50,-28,55,-23,58,-18,61,-13,62,-9],[4,-4,10,-9,16,-14,22,-17,28,-18,34,-16,38,-12,40,-8],[3,-5,9,-9,15,-12,21,-14,26,-15,30,-13]],
 [[4,-6,8,-12,13,-18,18,-24,24,-29,31,-32,38,-33,44,-31,50,-27,55,-21,58,-15,60,-10],[4,-5,10,-10,16,-14,22,-16,28,-17,33,-14,36,-10],[4,-4,10,-7,16,-9,22,-9,27,-8,31,-6]],
 [[4,-8,8,-14,13,-20,18,-26,24,-31,31,-34,38,-35,44,-33,50,-29,55,-23,58,-17,60,-12],[4,-6,10,-11,16,-14,22,-16,28,-16,33,-13,36,-9],[4,-4,10,-7,16,-8,22,-8,27,-7,31,-5]],
 [[3,-6,5,-13,9,-20,14,-26,20,-31,27,-34,34,-35,40,-33,46,-29,49,-24,51,-18,51,-13],[4,-5,10,-9,16,-13,22,-15,28,-16,34,-14,38,-11,40,-8],[3,-7,9,-9,15,-11,21,-12,27,-11,31,-9]],
 [[3,-5,6,-12,10,-19,15,-25,21,-29,28,-32,35,-33,42,-31,48,-27,53,-22,56,-16,57,-11],[4,-6,10,-10,16,-13,22,-14,28,-14,34,-12,38,-9],[4,-8,10,-10,16,-12,22,-12,27,-10,30,-8]]
];
const irrelSolidBR = [
 [[-80,8,-74,26,-66,40,-56,50,-44,54,-32,55,-20,52,-10,45,-3,34,1,20,null,6,-10,10,-22,18,-30,28,-30],[-78,6,-72,22,-64,36,-54,46,-42,50,-30,51,-18,48,-9,40,-3,28,0,16],[-76,4,-70,19,-62,32,-52,42,-40,46,-28,47,-17,44,-8,36,-2,24]],
 [[-87,-13,-84,2,-80,17,-74,32,-66,43,-57,47,-48,46,-40,41,-33,33,null,-26,-18,-20,-10,-12,-4,-4,-3,2,-6],[-85,-10,-81,6,-76,21,-69,35,-60,43,-50,46,-40,44,-31,38,-24,30],[-83,-8,-79,8,-73,23,-65,35,-56,41,-46,43,-36,40,-27,33]],
 [[-82,0,-76,18,-68,32,-58,44,-46,51,-34,54,-22,52,-12,45,-5,34,-1,20,null,6,-8,12,-16,18,-22,26,-24,34,-22],[-80,-2,-74,15,-66,29,-56,41,-44,48,-32,51,-20,49,-11,42,-4,30,0,18],[-78,-4,-72,12,-64,26,-54,37,-42,44,-30,47,-19,45,-10,38,-4,27]],
 [[-82,0,-76,18,-68,32,-58,44,-46,51,-34,54,-22,52,-12,45,-5,34,-1,20,null,6,-8,12,-18,20,-24,28,-26,36,-24],[-80,-2,-74,15,-66,29,-56,41,-44,48,-32,51,-20,49,-11,42,-4,30,0,18],[-78,-4,-72,12,-64,26,-54,37,-42,44,-30,47,-19,45,-10,38,-4,27]],
 [[-84,-8,-80,8,-74,22,-66,34,-56,43,-45,48,-34,48,-24,44,-14,36,-6,26,0,14,null,20,-20,28,-22,36,-20,42,-14],[-82,-8,-78,7,-72,20,-64,31,-54,39,-43,43,-32,43,-22,39,-13,32,-6,22],[-80,-10,-76,4,-70,17,-62,28,-52,36,-41,40,-30,40,-20,36,-11,29,-5,20]],
 [[-84,-8,-80,8,-74,22,-66,34,-56,43,-45,48,-34,48,-24,44,-14,36,-6,26,0,14,null,20,-20,28,-22,36,-18,40,-12],[-82,-8,-78,7,-72,20,-64,31,-54,39,-43,43,-32,43,-22,39,-13,32,-6,22],[-80,-10,-76,4,-70,17,-62,28,-52,36,-41,40,-30,40,-20,36,-11,29,-5,20]],
 [[-80,0,-76,16,-70,30,-62,41,-52,48,-42,52,-30,51,-19,46,-10,37,-4,25,0,12,null,28,-12,38,-10,46,-8,50,-4],[-79,-2,-75,13,-69,27,-61,38,-51,45,-41,48,-29,47,-19,42,-10,33,-4,22],[-78,-4,-74,10,-68,24,-60,34,-50,41,-40,44,-28,43,-18,38,-9,30,-3,19]],
 [[-80,0,-75,16,-69,30,-61,41,-51,48,-41,51,-29,50,-18,45,-9,36,-3,24,0,12,null,14,-14,22,-16,30,-16,36,-12],[-79,-2,-74,13,-68,27,-60,38,-50,45,-40,48,-28,47,-18,42,-9,33,-3,22],[-78,-4,-73,10,-67,24,-59,34,-49,41,-39,44,-27,43,-17,38,-8,30,-2,19]]
];
const irrelDashBR = [
 [[-60,50,-48,56,-36,58,-24,55,-14,48,-6,38,-1,26,null,34,-14,40,-8,44,-4,46,-2],[6,-6,10,-16,16,-24,24,-27,32,-22,38,-12],[4,-4,8,-12,14,-20,22,-23,30,-18]],
 [[-12,46,-2,46,8,40,15,30,18,18,15,8,null,36,-4,44,-6,50,-10,52,-16,50,-22,44,-26],[-18,42,-8,42,2,38,8,30,10,20,8,12,null,32,-6,40,-8,46,-12,48,-18],[-22,38,-12,39,-2,35,4,28,6,20]],
 [[-40,58,-28,58,-17,54,-8,46,-2,34,1,22,null,32,-14,38,-12,42,-16,42,-22],[-44,55,-32,55,-20,52,-11,44,-4,32],[36,-10,40,-14,41,-20]],
 [[-40,58,-28,58,-17,54,-8,46,-2,34,1,22,null,34,-10,42,-10,46,-14,46,-20],[-44,55,-32,55,-20,52,-11,44,-4,32],[36,-8,42,-12,44,-18]],
 [[-36,58,-24,54,-14,46,-6,36,0,24,null,36,-8,42,-10,46,-14,44,-20],[-40,55,-28,52,-18,45,-9,35,-3,24],[30,-6,36,-8,40,-12]],
 [[-34,58,-22,55,-12,47,-4,38,2,26,null,34,-8,40,-10,44,-14,42,-18],[-38,55,-26,52,-16,45,-7,36,-1,25],[30,-6,36,-8,40,-12]],
 [[-60,46,-50,52,-38,55,-26,53,-16,47,-8,38,-2,26,null,40,0,44,-2,47,-6,47,-12],[-56,44,-44,50,-32,52,-20,48,-11,40,-4,30],[38,2,42,-2,44,-8]],
 [[-58,50,-46,55,-34,56,-22,52,-12,44,-5,33,0,20,null,44,-6,48,-10,48,-16],[-54,46,-42,50,-30,51,-18,46,-9,37,-3,26],[40,-4,44,-8,46,-13]]
];
const axisBR = [[-17,35],[-17,35],[-16,36],[-16,36],[-16,37],[-16,35],[-16,35],[-17,35]];
const decAxisLen = [29,30,29,30,30,29,28,29];

// ===== LAYOUT (page positions, px) =====
const L = {
 a:{letter:[13,32],title:[265.5,29.5],ctx:[138.5,391,53.3],org:[[139,136],[392,136],[139,321],[392,322]],sb:[237,136,324],legTL:[181,76,89],legBR:[434,260.7,274]},
 b:{letter:[559,33],title:[805.5,24.3],ctx:[676,934.5,48.3],org:[[677,132],[935,132],[677,320],[935,320]],sb:[778,136.7,323.3],legTL:[720,70.7,84.3],legBR:[978,257.7,271.7]},
 c:{letter:[13,432],title:[265.5,430.7],ctx:[138.5,391,454],org:[[139,537],[392,537],[139,722],[392,722]],sb:[237,536,723.3],legTL:[181,476,489.3],legBR:[434,661,675]},
 d:{letter:[559,435],title:[807.5,430.7],ctx:[680.7,932.8,454],org:[[682,537],[934,537],[682,722],[934,722]],sb:[777.3,536,723],legTL:[723.3,476,489.3],legBR:[976,661,675]},
 e:{letter:[15,835],title:[266.8,835.7],ctx:[140.7,392.8,859],org:[[142,942],[394,942],[142,1127],[394,1127]],sb:[237.3,941.7,1129.3],legTL:[183.3,881,895],legBR:[436,1066.7,1080]},
 f:{letter:[562,839],title:[810.8,835.7],ctx:[683.7,936.2,859],org:[[684,942],[937,942],[684,1127],[937,1127]],sb:[777.3,941.7,1129],legTL:[726,881,895],legBR:[979.3,1066.7,1080]},
 g:{letter:[16,1240],title:[275.5,1239.3],ctx:[146.3,404.5,1270.7],org:[[147,1352],[405,1352],[147,1532],[405,1532]],sb:[238.3,1344.3,1532.3],legTL:[190,1293.3,1307.3],legBR:[448.3,1474,1488]},
 h:{letter:[563,1242.7],title:[810,1239.3],ctx:[683.7,936.2,1270.7],org:[[684,1351],[937,1351],[684,1532],[937,1532]],sb:[777.3,1344.3,1532.3],legTL:[726,1292.3,1306],legBR:[979.3,1473.3,1487.3]}
};

const GRAY = ['#000000','#8c8c8c','#c8c8c8'];
const BLUE = ['#0c0c9c','#1c74ff','#00e6ff'];
const IRR_BLUE = ['#1616aa','#2e6cff','#16ccff'];
const IRR_GRAY = ['#000000','#8a8a8a','#c0c0c0'];

const fig = document.getElementById('fig');

function pts(flat){
  const out=[];
  for(let i=0;i<flat.length;){
    if(flat[i]===null){ out.push({x:null,y:null}); i++; continue; }
    out.push({x:flat[i], y:flat[i+1]}); i+=2;
  }
  return out;
}
function lineDs(flat,color,dash,w,ten){
  return {data:pts(flat),showLine:true,borderColor:color,borderWidth:w,borderDash:dash||[],pointRadius:0,pointHoverRadius:0,tension:ten===undefined?0.4:ten,fill:false,clip:false,spanGaps:false};
}
function beadDs(flat,color,open){
  return {data:pts(flat),showLine:true,borderColor:color,borderWidth:open?1.2:1.8,tension:0.3,
    pointRadius:open?3.7:4.6,pointHoverRadius:0,pointBackgroundColor:open?'#ffffff':color,pointBorderColor:color,
    pointBorderWidth:open?1.8:1,clip:false,fill:false};
}

function makeSub(ox,oy,pi,spec){
  const W=220,H=160,XL=110,YT=95;
  const cv=document.createElement('canvas');
  cv.width=W; cv.height=H;
  cv.style.left=(ox-XL)+'px'; cv.style.top=(oy-YT)+'px';
  cv.style.width=W+'px'; cv.style.height=H+'px';
  fig.appendChild(cv);
  const f=spec.filled[pi], o=spec.open[pi], s=spec.solid[pi], d=spec.dash[pi];
  const rc=spec.relCol, ic=spec.irrCol;
  const list=[];
  list.push(beadDs(f[2],rc[2],false));
  list.push(beadDs(f[1],rc[1],false));
  for(let k=2;k>=0;k--) list.push(lineDs(s[k],ic[k],[],1.1));
  for(let k=2;k>=0;k--) list.push(lineDs(d[k],ic[k],[4,3],1.1));
  list.push(beadDs(f[0],rc[0],false));
  list.push(beadDs(o[2],rc[2],true));
  list.push(beadDs(o[1],rc[1],true));
  list.push(beadDs(o[0],rc[0],true));
  list.push(lineDs([-decAxisLen[pi],0,0,0],'#ff0000',[],3,0));
  const ax=spec.axis[pi];
  list.push(lineDs([0,0,ax[0],ax[1]],spec.axisCol,[],3,0));
  list.reverse(); // first dataset is drawn on top in Chart.js
  new Chart(cv,{type:'scatter',data:{datasets:list},options:{
    responsive:false,maintainAspectRatio:false,animation:false,devicePixelRatio:1,events:[],
    layout:{padding:0},
    plugins:{legend:{display:false},tooltip:{enabled:false},title:{display:false}},
    scales:{x:{type:'linear',min:-XL,max:W-XL,display:false},y:{type:'linear',min:YT-H,max:YT,display:false}}
  }});
}

function text(str,x,yb,size,color,align,html){
  const d=document.createElement('div'); d.className='t';
  d.style.fontSize=size+'px'; d.style.color=color;
  d.style.top=(yb-0.846*size)+'px'; d.style.left=x+'px';
  if(align==='center') d.style.transform='translateX(-50%)';
  if(html) d.innerHTML=str; else d.textContent=str;
  fig.appendChild(d); return d;
}
function rtext(str,cx,cy,size,color){
  const d=document.createElement('div'); d.className='t';
  d.style.fontSize=size+'px'; d.style.color=color;
  d.style.left=cx+'px'; d.style.top=cy+'px';
  d.style.transform='translate(-50%,-50%) rotate(-90deg)';
  d.textContent=str; fig.appendChild(d);
}
function box(x,y,w,h,color){
  const d=document.createElement('div'); d.className='ln';
  d.style.left=x+'px'; d.style.top=y+'px'; d.style.width=w+'px'; d.style.height=h+'px'; d.style.background=color;
  fig.appendChild(d); return d;
}
function dot(cx,cy,r,color){
  const d=box(cx-r,cy-r,2*r,2*r,color); d.style.borderRadius='50%';
}
function legend(x,y1,y2,relColor,irrColor){
  box(x,y1-1,27,2,relColor); dot(x+13.5,y1,4.5,relColor);
  text(legendLabels[0],x+31,y1+4,12,'#222');
  box(x,y2-0.6,27,1.2,irrColor);
  text(legendLabels[1],x+31,y2+4,12,'#222');
}
function scaleBar(x,y,label,col,w){
  box(x,y-0.5,35,1,'#ff4040');
  text(scaleLabels[0],x+17,y-4.5,13,'#222','center');
  text(scaleLabels[2],x+17.5,y+15.5,13,'#ff1a1a','center');
  box(x+40.5-w/2,y-39,w,35,col);
  rtext(scaleLabels[1],x+29,y-22.5,13,'#222');
  rtext(label,x+51.5,y-22,13,col);
}

const subSpecs = [
 {filled:relFilledTL,open:relOpenTL,solid:irrelSolidTL,dash:irrelDashTL,axis:axisTL,relCol:GRAY,irrCol:IRR_BLUE,axisCol:'#000000'},
 {filled:relFilledTR,open:relOpenTR,solid:irrelSolidTR,dash:irrelDashTR,axis:axisTR,relCol:BLUE,irrCol:IRR_GRAY,axisCol:'#000000'},
 {filled:relFilledBL,open:relOpenBL,solid:irrelSolidBL,dash:irrelDashBL,axis:axisBL,relCol:GRAY,irrCol:IRR_BLUE,axisCol:'#0000ff'},
 {filled:relFilledBR,open:relOpenBR,solid:irrelSolidBR,dash:irrelDashBR,axis:axisBR,relCol:BLUE,irrCol:IRR_GRAY,axisCol:'#0000ff'}
];

panels.forEach((p,pi)=>{
  const c=L[p];
  text(p,c.letter[0],c.letter[1],36,'#111');
  const tt=titles[pi].replace(/<sup>/g,'<span style="font-size:13px;position:relative;top:-8px">').replace(/<\/sup>/g,'</span>')
    .replace(/<sub>/g,'<span style="font-size:15px;position:relative;top:7px">').replace(/<\/sub>/g,'</span>');
  text(tt,c.title[0],c.title[1],19,'#262626','center',true);
  text(contexts[0],c.ctx[0],c.ctx[2],15,'#111','center');
  text(contexts[1],c.ctx[1],c.ctx[2],15,'#0000ff','center');
  subSpecs.forEach((sp,si)=>makeSub(c.org[si][0],c.org[si][1],pi,sp));
  scaleBar(c.sb[0],c.sb[1],axisLabels[0],'#222222',1);
  scaleBar(c.sb[0],c.sb[2],axisLabels[1],'#0000ff',1.5);
  legend(c.legTL[0],c.legTL[1],c.legTL[2],'#000000','#2b2bc0');
  legend(c.legBR[0],c.legBR[1],c.legBR[2],'#0c0c9c','#000000');
});
</script></body></html>
